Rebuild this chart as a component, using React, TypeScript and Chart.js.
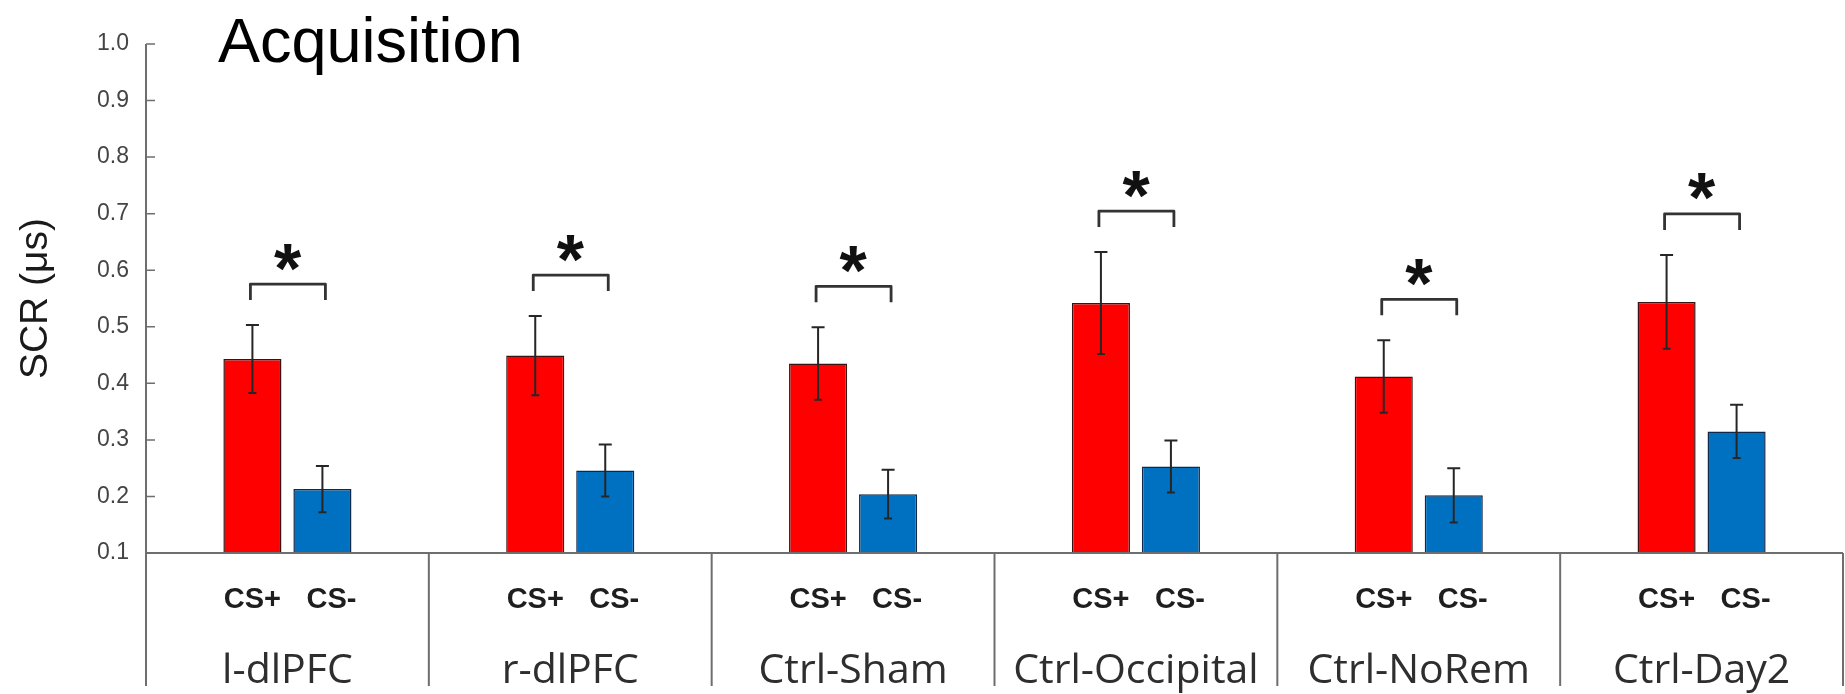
import React, { useEffect, useRef } from "react";
import { Chart, registerables } from "chart.js";

Chart.register(...registerables);

// ---- data ----
const groups = ["l-dlPFC", "r-dlPFC", "Ctrl-Sham", "Ctrl-Occipital", "Ctrl-NoRem", "Ctrl-Day2"];
const conditions = ["CS+", "CS-"];
const csPlus = [0.443, 0.449, 0.435, 0.542, 0.412, 0.544];
const csPlusErr = [0.06, 0.07, 0.064, 0.09, 0.064, 0.083];
const csMinus = [0.213, 0.246, 0.204, 0.253, 0.202, 0.315];
const csMinusErr = [0.041, 0.046, 0.043, 0.046, 0.048, 0.047];
const significant = [true, true, true, true, true, true];
const yMin = 0.1;
const yMax = 1.0;
const yStep = 0.1;
const chartTitle = "Acquisition";
const yTitle = "SCR (μs)";

const SANS = '"Liberation Sans", Arial, Helvetica, sans-serif';
const LABEL_FONT = '"Open Sans", "Noto Sans", sans-serif';

const annotations = {
  id: "annotations",
  afterDatasetsDraw(chart: any) {
    const { ctx, scales } = chart;
    const y = scales.y;
    const errs = [csPlusErr, csMinusErr];
    const means = [csPlus, csMinus];
    const m0 = chart.getDatasetMeta(0);
    const m1 = chart.getDatasetMeta(1);
    ctx.save();
    // error bars
    ctx.strokeStyle = "#262626";
    ctx.lineWidth = 2;
    [m0, m1].forEach((meta: any, d: number) => {
      meta.data.forEach((bar: any, i: number) => {
        const v = means[d][i];
        const e = errs[d][i];
        const x = bar.x;
        const yt = y.getPixelForValue(v + e);
        const yb = y.getPixelForValue(v - e);
        ctx.beginPath();
        ctx.moveTo(x, yt);
        ctx.lineTo(x, yb);
        ctx.moveTo(x - 6.5, yt);
        ctx.lineTo(x + 6.5, yt);
        ctx.moveTo(x - 4, yb);
        ctx.lineTo(x + 4, yb);
        ctx.stroke();
      });
    });
    // significance brackets
    ctx.lineWidth = 2.8;
    ctx.lineJoin = "round";
    ctx.strokeStyle = "#333";
    ctx.fillStyle = "#111";
    ctx.font = `bold 70px ${SANS}`;
    const m = ctx.measureText("*");
    const asc = m.actualBoundingBoxAscent;
    const desc = m.actualBoundingBoxDescent;
    const bl = m.actualBoundingBoxLeft;
    const br = m.actualBoundingBoxRight;
    groups.forEach((_g, i) => {
      if (!significant[i]) return;
      const topVal = Math.max(csPlus[i] + csPlusErr[i], csMinus[i] + csMinusErr[i]);
      const top = y.getPixelForValue(topVal) - 41;
      const x1 = m0.data[i].x - 2;
      const x2 = m1.data[i].x + 3;
      ctx.beginPath();
      ctx.moveTo(x1, top + 16);
      ctx.lineTo(x1, top);
      ctx.lineTo(x2, top);
      ctx.lineTo(x2, top + 16);
      ctx.stroke();
      const cx = (x1 + x2) / 2;
      const cy = top - 27;
      ctx.textAlign = "left";
      ctx.textBaseline = "alphabetic";
      ctx.fillText("*", cx - (br - bl) / 2, cy + (asc - desc) / 2);
    });
    ctx.restore();
  },
  afterDraw(chart: any) {
    const { ctx, chartArea: a, scales } = chart;
    const x = scales.x;
    const y = scales.y;
    const ext = a.bottom + 133;
    ctx.save();
    ctx.strokeStyle = "#6e6e6e";
    ctx.lineWidth = 2;
    ctx.beginPath();
    // y axis line
    ctx.moveTo(a.left, a.top);
    ctx.lineTo(a.left, ext);
    // baseline
    ctx.moveTo(a.left, a.bottom);
    ctx.lineTo(a.right, a.bottom);
    ctx.stroke();
    // inward ticks
    ctx.lineWidth = 1.5;
    ctx.beginPath();
    y.ticks.forEach((t: any) => {
      const py = y.getPixelForValue(t.value);
      ctx.moveTo(a.left, py);
      ctx.lineTo(a.left + 9, py);
    });
    ctx.stroke();
    // group dividers
    ctx.lineWidth = 2;
    ctx.beginPath();
    for (let k = 1; k <= groups.length; k++) {
      const px = x.getPixelForValue(k - 0.5);
      ctx.moveTo(px, a.bottom);
      ctx.lineTo(px, ext);
    }
    ctx.stroke();
    // condition labels
    const m0 = chart.getDatasetMeta(0);
    const m1 = chart.getDatasetMeta(1);
    ctx.fillStyle = "#1e1e1e";
    ctx.font = `bold 29px ${SANS}`;
    ctx.textAlign = "center";
    ctx.textBaseline = "alphabetic";
    groups.forEach((_g, i) => {
      ctx.fillText(conditions[0], m0.data[i].x, a.bottom + 55);
      ctx.fillText(conditions[1], m1.data[i].x + 9, a.bottom + 55);
    });
    // group labels
    ctx.fillStyle = "#2e2e2e";
    ctx.font = `41px ${LABEL_FONT}`;
    groups.forEach((g, i) => {
      ctx.fillText(g, x.getPixelForValue(i), a.bottom + 130);
    });
    // title
    ctx.fillStyle = "#000";
    ctx.font = `63px ${SANS}`;
    ctx.textAlign = "left";
    ctx.fillText(chartTitle, a.left + 72, a.top + 18);
    ctx.restore();
  },
};

export default function App() {
  const ref = useRef<HTMLCanvasElement | null>(null);
  useEffect(() => {
    if (!ref.current) return;
    Chart.defaults.font.family = SANS;
    const chart = new Chart(ref.current, {
      type: "bar",
      data: {
        labels: groups,
        datasets: [
          {
            label: conditions[0],
            data: csPlus,
            backgroundColor: "#FF0000",
            borderColor: "#3a1414",
            borderWidth: 1.5,
            categoryPercentage: 0.495,
            barPercentage: 0.83,
          },
          {
            label: conditions[1],
            data: csMinus,
            backgroundColor: "#0070C0",
            borderColor: "#10284a",
            borderWidth: 1.5,
            categoryPercentage: 0.495,
            barPercentage: 0.83,
          },
        ],
      },
      plugins: [annotations],
      options: {
        animation: false,
        responsive: false,
        devicePixelRatio: 1,
        layout: { padding: { top: 44, right: 2, left: 0, bottom: 0 } },
        plugins: {
          legend: { display: false },
          tooltip: { enabled: false },
          title: { display: false },
        },
        scales: {
          x: {
            type: "category",
            grid: { display: false, drawTicks: false },
            border: { display: false },
            ticks: { display: false },
            afterFit: (s: any) => {
              s.height = 141;
            },
          },
          y: {
            min: yMin,
            max: yMax,
            grid: { display: false, drawTicks: false },
            border: { display: false },
            ticks: {
              stepSize: yStep,
              padding: 17,
              color: "#444",
              font: { size: 23, family: SANS },
              callback: (v: any) => Number(v).toFixed(1),
            },
            title: {
              display: true,
              text: yTitle,
              color: "#1a1a1a",
              font: { size: 39, family: SANS },
              padding: { top: 13, bottom: 0 },
            },
            afterFit: (s: any) => {
              s.width = 146;
            },
          },
        },
      },
    });
    return () => chart.destroy();
  }, []);
  return (
    <div style={{ position: "absolute", left: 0, top: 0, width: 1845, height: 694, background: "#fff" }}>
      <canvas ref={ref} width={1845} height={694} />
    </div>
  );
}
